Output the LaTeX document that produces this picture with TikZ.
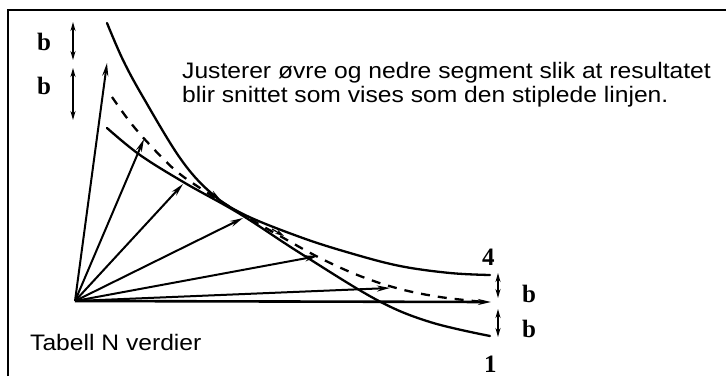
\documentclass[tikz,border=0pt]{standalone}
\usepackage{fontspec}
\newfontfamily\labfont[FakeStretch=1.1]{Liberation Sans}
\newfontfamily\bfont{Liberation Serif}
\usetikzlibrary{arrows.meta}
\begin{document}
\begin{tikzpicture}[x=1pt,y=-1pt,
  curve/.style={line width=2.3pt, line cap=round},
  fan/.style={line width=2pt,-{Stealth[length=13pt,width=6pt]}},
  tickarrow/.style={line width=1.2pt,-{Stealth[length=9pt,width=5pt]}},
  dbl/.style={line width=1.6pt,{Stealth[length=9pt,width=5pt]}-{Stealth[length=9pt,width=5pt]}},
  txt/.style={font={\labfont\fontsize{22.4}{25}\selectfont}, anchor=base west, inner sep=0pt},
  blab/.style={font={\bfont\bfseries\fontsize{25}{25}\selectfont}, anchor=base west, inner sep=0pt}]
\useasboundingbox (0,0) rectangle (726,376);
% frame
\draw[line width=2.5pt] (8,376) -- (8,10) -- (726,10);
% texts
\node[txt] (t1) at (182,78) {Justerer øvre og nedre segment slik at resultatet};
\node[txt] (t2) at (182,102) {blir snittet som vises som den stiplede linjen.};
\node[txt] (t3) at (30,350) {Tabell N verdier};
% labels
\node[blab] (bl1) at (37,50) {b};
\node[blab] (bl2) at (37,94) {b};
\node[blab] (br1) at (522,302) {b};
\node[blab] (br2) at (522,337) {b};
\node[blab] (n4) at (482,265) {4};
\node[blab] (n1) at (484,372) {1};
% double arrows
\coordinate (la1) at (73,22); \coordinate (la2) at (73,60);
\coordinate (la3) at (73,68); \coordinate (la4) at (73,120);
\coordinate (ra1) at (498,273); \coordinate (ra2) at (498,298);
\coordinate (ra3) at (498,309); \coordinate (ra4) at (498,337);
\draw[dbl] (la1) -- (la2);
\draw[dbl] (la3) -- (la4);
\draw[dbl] (ra1) -- (ra2);
\draw[dbl] (ra3) -- (ra4);
% curve 4 (upper)
\draw[curve] plot[smooth, tension=0.6] coordinates {(107,23) (123,60) (143,97) (180,158) (210,192) (243,214) (300,237) (350,253) (400,266) (450,273) (490,275)};
% curve 1 (lower)
\draw[curve] plot[smooth, tension=0.6] coordinates {(107,128) (140,155) (185,183) (240,214) (300,253) (377,300) (430,322) (490,336)};
% dashed result
\draw[line width=2.3pt, dash pattern=on 9pt off 8pt] plot[smooth, tension=0.6] coordinates {(112,97) (130,122) (150,145) (175,170) (200,188) (240,213) (280,236) (320,258) (360,276) (400,289) (440,297) (484,302)};
% fan of vectors
\coordinate (O) at (75,301);
\coordinate (e1) at (107,63);
\coordinate (e2) at (144,139);
\coordinate (e3) at (183,184);
\coordinate (e4) at (243,218);
\coordinate (e5) at (318,256);
\coordinate (e6) at (390,288);
\coordinate (e7) at (491,302);
\draw[fan] (O) -- (e1);
\draw[fan] (O) -- (e2);
\draw[fan] (O) -- (e3);
\draw[fan] (O) -- (e4);
\draw[fan] (O) -- (e5);
\draw[fan] (O) -- (e6);
\draw[fan, line width=2.6pt] (O) -- (e7);
% small marks on the dashed line
\coordinate (m1a) at (206,189); \coordinate (m1b) at (219,198);
\coordinate (m2a) at (272,229); \coordinate (m2b) at (284,236);
\draw[tickarrow] (m1a) -- (m1b);
\draw[tickarrow] (m2a) -- (m2b);
\end{tikzpicture}
\end{document}
